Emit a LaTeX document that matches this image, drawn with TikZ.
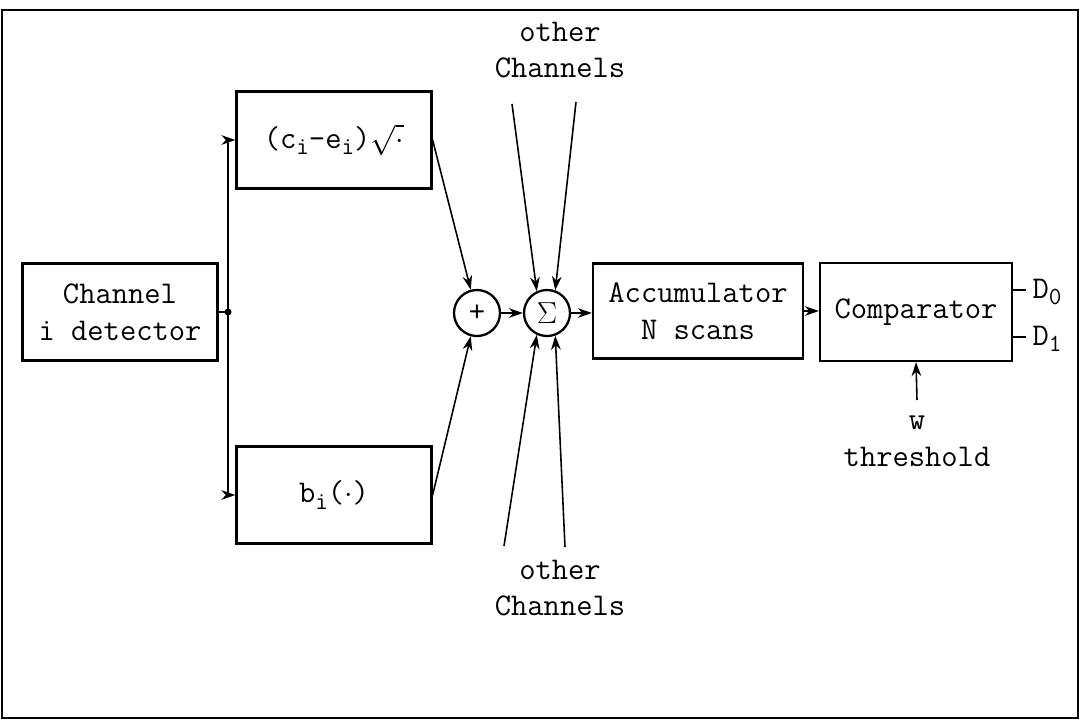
\documentclass[tikz,border=0pt]{standalone}
\usetikzlibrary{arrows.meta}
\newcommand{\lowsub}[1]{\raisebox{-0.45ex}{\fontsize{14}{14}\selectfont #1}}

\begin{document}
\begin{tikzpicture}[x=0.02cm,y=-0.02cm,
  font=\ttfamily\fontsize{18}{21}\selectfont,
  line width=0.9pt,
  >={Stealth[length=8pt,width=5.5pt]},
  blk/.style={draw,line width=1.3pt,minimum width=3.9cm,minimum height=1.94cm,
    align=center,inner sep=2pt},
  circ/.style={draw,line width=1.3pt,circle,minimum size=0.92cm,inner sep=0pt}]
  \useasboundingbox (0,0) rectangle (1081,721);
  % Outer frame.
  \draw[line width=1.3pt] (2,10) rectangle (1078,718);
  % Blocks.
  \node[blk] (det) at (120,312) {Channel\\i detector};
  \node[blk] (sq) at (334,140) {(c\lowsub{i}-e\lowsub{i})$\sqrt{\cdot}$};
  \node[blk] (bf) at (334,495) {b\lowsub{i}($\cdot$)};
  \node[circ] (plus) at (477,313) {+};
  \node[circ] (sig) at (547,313) {$\Sigma$};
  \node[blk,minimum width=4.2cm,minimum height=1.9cm] (acc) at (698,311) {Accumulator\\N scans};
  \node[blk,minimum width=3.84cm,minimum height=1.96cm] (cmp) at (916,312) {Comparator};
  % Split of the detector output.
  \coordinate (jn) at (228,312);
  \fill (jn) circle (2pt);
  \draw (det.east) -- (jn);
  \draw[->] (jn) |- (sq.west);
  \draw[->] (jn) |- (bf.west);
  % Into the adder and the sum.
  \draw[->] (sq.east) -- (plus.105);
  \draw[->] (bf.east) -- (plus.255);
  \draw[->] (plus.east) -- (sig.west);
  \draw[->] (sig.east) -- (sig.east -| acc.west);
  % Other channels.
  \node[align=center] (otop) at (560,50) {other\\Channels};
  \node[align=center] (obot) at (560,588) {other\\Channels};
  \coordinate (t1) at (512,104);
  \coordinate (t2) at (576,102);
  \coordinate (b1) at (504,546);
  \coordinate (b2) at (565,547);
  \draw[->] (t1) -- (sig.115);
  \draw[->] (t2) -- (sig.70);
  \draw[->] (b1) -- (sig.245);
  \draw[->] (b2) -- (sig.290);
  % Accumulator to comparator.
  \draw[->] (acc.east) -- (acc.east -| cmp.west);
  % Decisions.
  \coordinate (d0a) at (1026,290);
  \coordinate (d1a) at (1026,337);
  \draw (cmp.east |- d0a) -- (d0a);
  \draw (cmp.east |- d1a) -- (d1a);
  \node[anchor=west,inner sep=1pt] (d0) at (1030,292) {D\lowsub{0}};
  \node[anchor=west,inner sep=1pt] (d1) at (1030,339) {D\lowsub{1}};
  % Threshold.
  \node[align=center] (thr) at (917,441) {w\\threshold};
  \coordinate (tw) at (917,400);
  \draw[->] (tw) -- (cmp.south);
\end{tikzpicture}
\end{document}
